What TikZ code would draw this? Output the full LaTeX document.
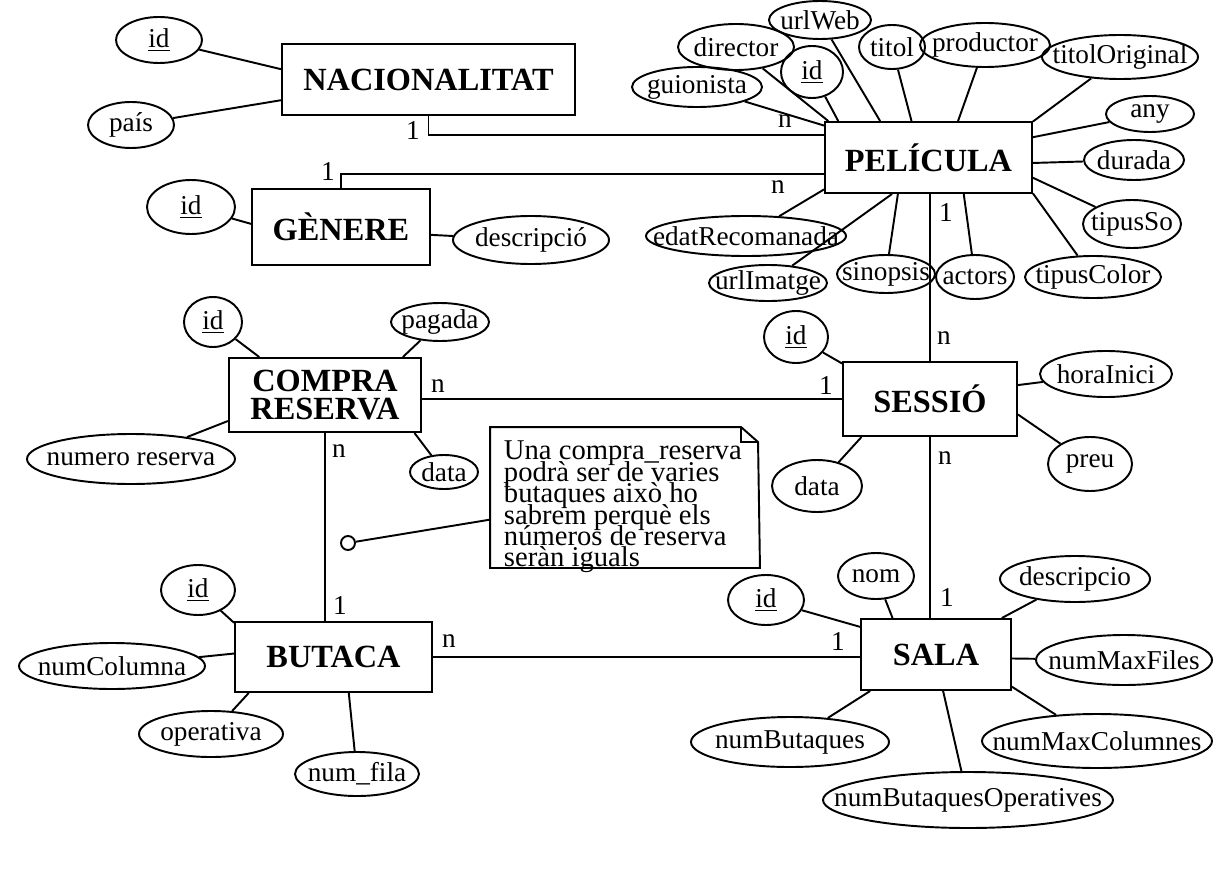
\documentclass[tikz,border=0pt]{standalone}
\usepackage{fontspec}
\setmainfont{Liberation Serif}
\usetikzlibrary{shapes.geometric}

\tikzset{
    attr/.style 2 args={draw, ellipse, inner sep=-60pt, minimum width=#1*0.02cm, minimum height=#2*0.02cm, font=\fontsize{15.5}{16}\selectfont},
    entity/.style 2 args={draw, rectangle, inner sep=0pt, minimum width=#1*0.02cm, minimum height=#2*0.02cm, align=center, font=\fontsize{18.4}{16}\selectfont\bfseries},
    card/.style={inner sep=0pt, font=\fontsize{15.5}{16}\selectfont},
    hole/.style={draw, circle, inner sep=0pt, minimum size=14*0.02cm}
}

\begin{document}
\begin{tikzpicture}[x=0.02cm, y=-0.02cm, line width=1.1pt]
    \useasboundingbox (0,0) rectangle (1222,888);

    % entitats
    \node[entity={293}{71}] (nac) at (428.5,79.5) {NACIONALITAT};
    \node[entity={178}{76}] (gen) at (341,227) {GÈNERE};
    \node[entity={207}{71}] (pel) at (928.5,157.5) {PELÍCULA};
    \node[entity={192}{74}] (com) at (325,395) {COMPRA\\RESERVA};
    \node[entity={174}{74}] (ses) at (930,399) {SESSIÓ};
    \node[entity={197}{70}] (but) at (333.5,657) {BUTACA};
    \node[entity={150}{71}] (sala) at (936,654.5) {SALA};

    % atributs
    \node[attr={86}{46}] (nid) at (159,40) {\underline{id}};
    \node[attr={86}{46}] (npais) at (131,125) {país};
    \node[attr={88}{54}] (gid) at (191,207) {\underline{id}};
    \node[attr={156}{48}] (gdesc) at (531,240) {descripció};

    \node[attr={130}{40}] (pguio) at (697,87) {guionista};
    \node[attr={116}{46}] (pdir) at (736,47) {director};
    \node[attr={62}{52}] (pid) at (812,72) {\underline{id}};
    \node[attr={102}{38}] (purl) at (820,20) {urlWeb};
    \node[attr={66}{44}] (ptit) at (892,47) {titol};
    \node[attr={130}{44}] (pprod) at (985,45) {productor};
    \node[attr={156}{44}] (porig) at (1120,57) {titolOriginal};
    \node[attr={88}{36}] (pany) at (1150,114) {any};
    \node[attr={100}{40}] (pdur) at (1134,160) {durada};
    \node[attr={98}{48}] (pso) at (1132,224) {tipusSo};
    \node[attr={136}{42}] (pcol) at (1093,277) {tipusColor};
    \node[attr={78}{44}] (pact) at (975,277) {actors};
    \node[attr={98}{38}] (psin) at (886,274) {sinopsis};
    \node[attr={118}{36}] (pimg) at (768,283) {urlImatge};
    \node[attr={200}{40}] (pedat) at (746,236) {edatRecomanada};

    \node[attr={64}{52}] (sid) at (796,337) {\underline{id}};
    \node[attr={132}{46}] (shora) at (1106,374) {horaInici};
    \node[attr={84}{54}] (spreu) at (1090,464) {preu};
    \node[attr={90}{52}] (sdata) at (817,486) {data};

    \node[attr={58}{50}] (cid) at (213,322) {\underline{id}};
    \node[attr={98}{38}] (cpag) at (440,322) {pagada};
    \node[attr={208}{50}] (cnum) at (131,459) {numero reserva};
    \node[attr={68}{34}] (cdata) at (444,472) {data};

    \node[attr={74}{50}] (bid) at (198,590) {\underline{id}};
    \node[attr={186}{46}] (bcol) at (112,666) {numColumna};
    \node[attr={144}{46}] (bop) at (211,734) {operativa};
    \node[attr={124}{44}] (bfila) at (357,774) {num\_fila};

    \node[attr={76}{50}] (aid) at (766,600) {\underline{id}};
    \node[attr={76}{46}] (anom) at (876,576) {nom};
    \node[attr={150}{46}] (adesc) at (1075,579) {descripcio};
    \node[attr={176}{50}] (afiles) at (1124,660) {numMaxFiles};
    \node[attr={230}{54}] (acol) at (1097,741) {numMaxColumnes};
    \node[attr={198}{50}] (abut) at (790,742) {numButaques};
    \node[attr={290}{56}] (aop) at (968,800) {numButaquesOperatives};

    \foreach \a/\b in {nid/nac.176, npais/nac.188, gid/gen.178, gdesc/gen.355,
        pguio/pel.163, pdir/pel.160, pid/pel.158, purl/pel.143, ptit/pel.115,
        pprod/pel.51, porig/pel.19, pany/pel.11, pdur/pel.357, pso/pel.349,
        pcol/pel.341, pact/pel.314, psin/pel.230, pimg/pel.225, pedat/pel.197,
        sid/ses.158, shora/ses.9, spreu/ses.350, sdata/ses.209,
        cid/com.150, cpag/com.26, cnum/com.195, cdata/com.337,
        bid/but.161, bcol/but.178, bop/but.203, bfila/but.293,
        aid/sala.160, anom/sala.140, adesc/sala.29, afiles/sala.357,
        acol/sala.337, abut/sala.209, aop/sala.281}
    \draw (\a) -- (\b);

    % relacions
    \draw (nac.south) |- (pel.168);
    \draw (gen.north) |- (pel.189);
    \draw (ses.north) -- (ses.north |- pel.south);
    \draw (ses.west) -- (ses.west -| com.east);
    \draw (com.south) -- (com.south |- but.north);
    \draw (ses.south) -- (ses.south |- sala.north);
    \draw (but.east) -- (but.east -| sala.west);

    \node[card] (c1) at (413,131) {1};
    \node[card] (c2) at (785,121) {n};
    \node[card] (c3) at (328,172) {1};
    \node[card] (c4) at (778,187) {n};
    \node[card] (c5) at (946,213) {1};
    \node[card] (c6) at (944,338) {n};
    \node[card] (c7) at (438,386) {n};
    \node[card] (c8) at (826,386) {1};
    \node[card] (c9) at (339,451) {n};
    \node[card] (c10) at (340,606) {1};
    \node[card] (c11) at (449,641) {n};
    \node[card] (c12) at (838,642) {1};
    \node[card] (c13) at (945,458) {n};
    \node[card] (c14) at (947,598) {1};

    % nota
    \node[inner sep=0pt, minimum width=268*0.02cm, minimum height=139*0.02cm] (note) at (625,497.5) {};
    \draw (note.north west) -- ++(251,0) -- ++(17,15) -- (note.south east) -- (note.south west) -- cycle;
    \draw (note.north west) ++(251,0) -- ++(0,15) -- ++(17,0);
    \node[anchor=north west, align=left, inner sep=0pt, font=\fontsize{16.3}{12.2}\selectfont,
        execute at begin node={\lineskiplimit=-100pt\relax}] (notetxt) at (503,440)
        {Una compra\_reserva\\podrà ser de varies\\butaques això ho\\sabrem perquè els\\números de reserva\\seràn iguals};
    \node[hole] (pin) at (348,543) {};
    \draw (pin) -- (note);
\end{tikzpicture}
\end{document}
